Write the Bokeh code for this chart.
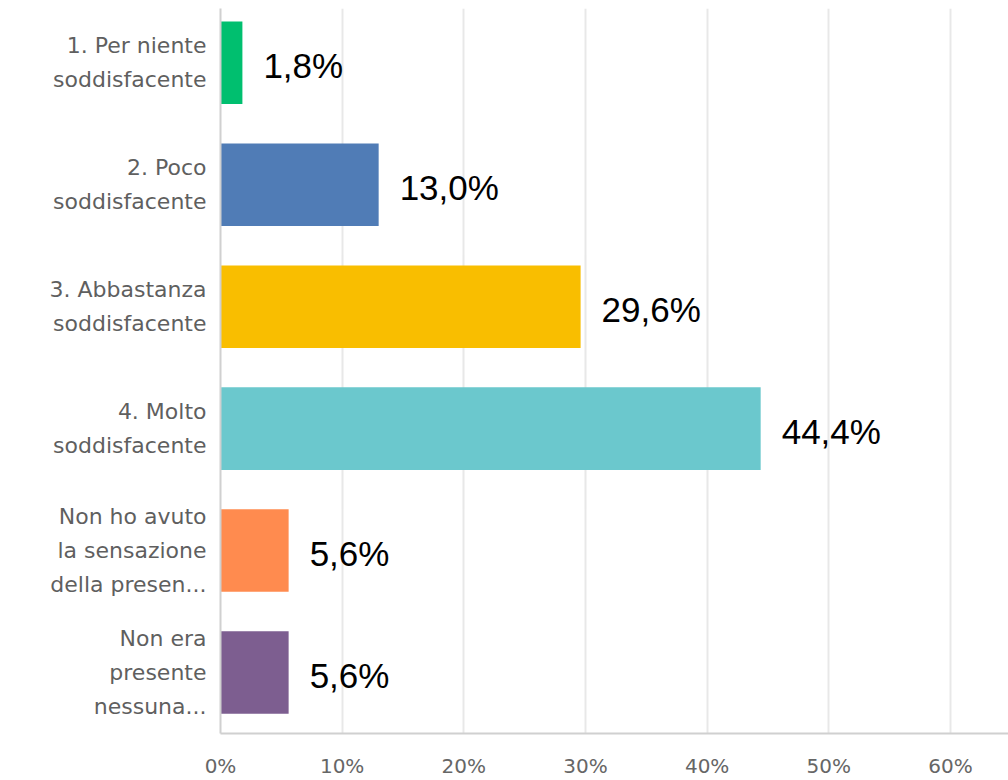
from bokeh.plotting import figure
from bokeh.models import Range1d, FixedTicker, ColumnDataSource, LabelSet
from bokeh.core.properties import value
from bokeh.embed import file_html
from bokeh.resources import INLINE

categories = [
    "1. Per niente\nsoddisfacente",
    "2. Poco\nsoddisfacente",
    "3. Abbastanza\nsoddisfacente",
    "4. Molto\nsoddisfacente",
    "Non ho avuto\nla sensazione\ndella presen...",
    "Non era\npresente\nnessuna...",
]
values = [1.8, 13.0, 29.6, 44.4, 5.6, 5.6]
colors = ["#00BF6F", "#507CB6", "#F9BE00", "#6BC8CD", "#FF8B4F", "#7D5E90"]
x_ticks = [0, 10, 20, 30, 40, 50, 60]

pos = list(range(len(categories)))
labels = [f"{v:.1f}".replace(".", ",") + "%" for v in values]
src = ColumnDataSource(dict(y=pos, v=values, c=colors, lab=labels))

p = figure(width=1008, height=780, output_backend="svg", toolbar_location=None,
           x_range=Range1d(0, 64.77), y_range=Range1d(5.5, -0.445),
           min_border_left=220, min_border_right=0, min_border_top=8,
           min_border_bottom=43)
p.outline_line_color = None

p.hbar(y="y", left=0, right="v", height=0.677, color="c", line_color=None, source=src)

lbl = LabelSet(x="v", y="y", text="lab", source=src, x_offset=21, y_offset=-3,
               text_font=value("Liberation Sans"), text_font_size="35px",
               text_baseline="middle", text_color="#000000")
p.add_layout(lbl)

p.xaxis.ticker = FixedTicker(ticks=x_ticks)
p.xaxis.major_label_overrides = {t: f"{t}%" for t in x_ticks}
p.xaxis.major_tick_line_color = None
p.xaxis.minor_tick_line_color = None
p.xaxis.major_label_standoff = 14
p.xaxis.major_label_text_font = "DejaVu Sans"
p.xaxis.major_label_text_font_size = "20px"
p.xaxis.major_label_text_color = "#666666"
p.xaxis.axis_line_color = "#d0d0d0"
p.xaxis.axis_line_width = 2

p.yaxis.ticker = FixedTicker(ticks=pos)
p.yaxis.major_label_overrides = {i: c for i, c in enumerate(categories)}
p.yaxis.major_tick_line_color = None
p.yaxis.minor_tick_line_color = None
p.yaxis.major_label_standoff = 8
p.yaxis.major_label_text_font = "DejaVu Sans"
p.yaxis.major_label_text_font_size = "22px"
p.yaxis.major_label_text_color = "#5f5f5f"
p.yaxis.major_label_text_line_height = 1.35
p.yaxis.axis_line_color = "#d0d0d0"
p.yaxis.axis_line_width = 2

p.xgrid.grid_line_color = "#e8e8e8"
p.xgrid.grid_line_width = 2
p.ygrid.grid_line_color = None

open("out.html", "w").write(file_html(p, INLINE))
